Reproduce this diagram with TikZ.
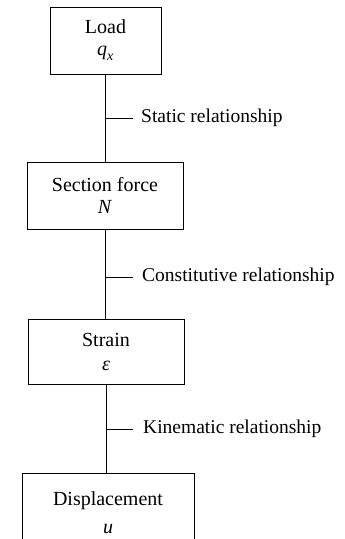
\documentclass[tikz,border=0pt]{standalone}
\usepackage{amsmath}
\usepackage{fontspec}
\setmainfont{Liberation Serif}

\begin{document}
\begin{tikzpicture}
  [
    x=1pt, y=-1pt,
    box/.style={draw=black, line width=0.8pt, align=center,
      font=\fontsize{20}{24}\selectfont, inner sep=0pt, minimum height=67pt},
    lbl/.style={anchor=west, inner sep=0pt, font=\fontsize{19.5}{24}\selectfont},
    ld/.style={draw=black, line width=0.8pt}
  ]
  \clip (0,0) rectangle (345,539);
  \node (c1) at (105.5,40.5) [box, minimum width=111pt] {Load\\[-2pt]$\textit{q}_{\textit{x}}$};
  \node (c2) at (105,195.5) [box, minimum width=156pt] {Section force\\[-2pt]\textit{N}};
  \node (c3) at (106,351.5) [box, minimum width=156pt, minimum height=65pt] {Strain\\\textit{ε}};
  \node (c4) at (108,513) [box, minimum width=172pt, minimum height=80pt] {Displacement\\[4pt]\textit{u}};

  \node (r1) at (141,118) [lbl] {Static relationship};
  \node (r2) at (142,277) [lbl] {Constitutive relationship};
  \node (r3) at (143,429) [lbl] {Kinematic relationship};

  \draw [ld] (c1.south) -- (c1.south |- c2.north);
  \draw [ld] (c2.south) -- (c2.south |- c3.north);
  \draw [ld] (c3.south) -- (c3.south |- c4.north);

  \draw [ld] (c1.south |- r1.west) -- ([xshift=-8pt]r1.west);
  \draw [ld] (c2.south |- r2.west) -- ([xshift=-9pt]r2.west);
  \draw [ld] (c3.south |- r3.west) -- ([xshift=-10pt]r3.west);
\end{tikzpicture}
\end{document}
